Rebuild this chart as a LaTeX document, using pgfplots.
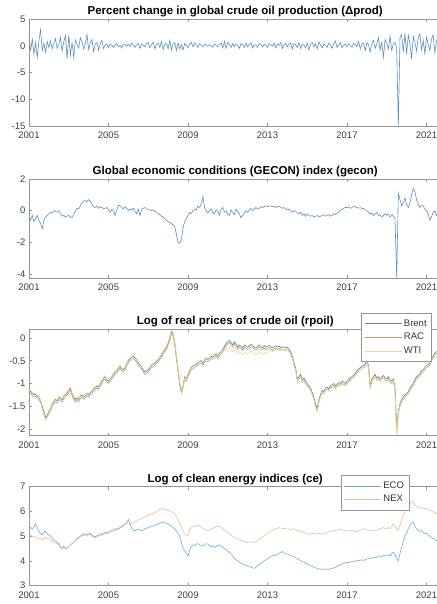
\documentclass[border=0pt]{standalone}
\usepackage{pgfplots}
\pgfplotsset{compat=1.18}
\usepackage{pgfplotstable}
\usepackage{fontspec}
\setmainfont{Liberation Sans}

\definecolor{seriesblue}{RGB}{90,145,192}
\definecolor{brentc}{RGB}{110,120,134}
\definecolor{racc}{RGB}{182,158,124}
\definecolor{wtic}{RGB}{234,214,140}
\definecolor{ecoc}{RGB}{112,172,210}
\definecolor{nexc}{RGB}{236,186,150}
\definecolor{framec}{RGB}{150,150,150}

% monthly observations: m = month index (0 = first month of 2001)
\pgfplotstableread{
m prod gecon brent rac wti eco nex
0 0.3 -0.4 -1.20 -1.25 -1.18 5.30 5.00
1 -0.8 -0.6 -1.17 -1.22 -1.15 5.35 5.05
2 1.2 -0.3 -1.22 -1.27 -1.20 5.28 4.98
3 -1.5 -0.7 -1.25 -1.30 -1.23 5.40 5.02
4 0.6 -0.5 -1.23 -1.28 -1.21 5.50 4.95
5 -2.2 -0.3 -1.28 -1.33 -1.26 5.35 4.90
6 1.0 -0.6 -1.30 -1.35 -1.28 5.20 4.88
7 3.0 -0.8 -1.38 -1.43 -1.36 5.10 4.90
8 -0.9 -1.15 -1.50 -1.55 -1.56 5.05 4.85
9 0.5 -0.6 -1.62 -1.67 -1.68 5.15 4.92
10 -1.2 -0.4 -1.74 -1.79 -1.80 5.20 4.95
11 0.8 -0.3 -1.70 -1.75 -1.76 5.10 4.88
12 -0.3 -0.2 -1.62 -1.67 -1.68 5.05 4.90
13 0.9 -0.1 -1.55 -1.60 -1.53 5.00 4.85
14 -0.6 -0.15 -1.45 -1.50 -1.43 4.95 4.80
15 0.4 0.0 -1.40 -1.45 -1.38 4.85 4.75
16 1.3 -0.05 -1.35 -1.40 -1.33 4.80 4.72
17 -0.5 -0.1 -1.38 -1.43 -1.36 4.75 4.70
18 0.2 0.0 -1.30 -1.35 -1.28 4.70 4.65
19 1.6 -0.2 -1.33 -1.38 -1.31 4.55 4.58
20 -1.0 -0.35 -1.36 -1.41 -1.34 4.50 4.52
21 0.7 -0.3 -1.28 -1.33 -1.26 4.60 4.55
22 1.9 -0.4 -1.25 -1.30 -1.23 4.48 4.50
23 -2.4 -0.35 -1.20 -1.25 -1.18 4.52 4.55
24 2.0 -0.3 -1.15 -1.20 -1.13 4.60 4.60
25 -1.8 -0.4 -1.10 -1.15 -1.08 4.65 4.65
26 0.6 -0.45 -1.22 -1.27 -1.20 4.70 4.70
27 -2.2 -0.25 -1.30 -1.35 -1.28 4.75 4.75
28 1.1 0.0 -1.36 -1.41 -1.34 4.85 4.82
29 0.3 0.15 -1.32 -1.37 -1.30 4.90 4.88
30 -0.4 0.1 -1.35 -1.40 -1.33 4.95 4.92
31 1.5 0.3 -1.28 -1.33 -1.26 5.00 4.98
32 0.8 0.5 -1.25 -1.30 -1.23 5.05 5.00
33 -0.6 0.6 -1.30 -1.35 -1.28 5.10 5.05
34 0.4 0.65 -1.27 -1.32 -1.25 5.08 5.02
35 2.1 0.55 -1.22 -1.27 -1.20 5.05 5.00
36 -0.7 0.7 -1.25 -1.30 -1.23 5.10 5.05
37 0.5 0.6 -1.20 -1.25 -1.18 5.12 5.08
38 1.2 0.4 -1.18 -1.23 -1.16 5.05 5.00
39 -1.1 0.25 -1.12 -1.17 -1.10 5.00 4.95
40 0.3 0.2 -1.10 -1.15 -1.08 4.98 4.92
41 0.6 0.3 -1.05 -1.10 -1.03 5.02 4.98
42 -0.8 0.15 -1.08 -1.13 -1.06 5.05 5.00
43 0.4 0.25 -1.00 -1.05 -0.98 5.10 5.05
44 1.0 0.2 -0.95 -1.00 -0.93 5.08 5.02
45 -0.5 0.1 -0.88 -0.93 -0.86 5.12 5.08
46 0.2 0.15 -0.85 -0.90 -0.83 5.15 5.12
47 0.3 0.2 -0.92 -0.97 -0.90 5.10 5.15
48 -0.4 0.05 -0.95 -1.00 -0.93 5.15 5.18
49 0.3 -0.1 -0.90 -0.95 -0.88 5.18 5.22
50 0.1 0.1 -0.85 -0.90 -0.83 5.22 5.25
51 -0.3 0.0 -0.80 -0.85 -0.78 5.20 5.28
52 0.2 -0.3 -0.75 -0.80 -0.73 5.26 5.32
53 0.4 0.05 -0.72 -0.77 -0.70 5.25 5.30
54 -0.2 0.35 -0.66 -0.71 -0.64 5.30 5.35
55 0.1 0.3 -0.62 -0.67 -0.60 5.33 5.40
56 -0.4 0.2 -0.68 -0.73 -0.66 5.38 5.42
57 0.3 0.1 -0.70 -0.75 -0.68 5.42 5.45
58 0.2 0.25 -0.66 -0.71 -0.64 5.48 5.50
59 -0.1 0.15 -0.55 -0.60 -0.53 5.55 5.52
60 0.3 0.0 -0.50 -0.55 -0.48 5.68 5.50
61 -0.2 0.1 -0.45 -0.50 -0.43 5.50 5.48
62 0.5 0.05 -0.42 -0.47 -0.40 5.32 5.52
63 0.1 0.15 -0.40 -0.45 -0.38 5.25 5.55
64 -0.3 -0.05 -0.44 -0.49 -0.42 5.22 5.58
65 0.2 -0.2 -0.48 -0.53 -0.46 5.25 5.60
66 0.4 0.1 -0.55 -0.60 -0.53 5.28 5.65
67 -0.5 -0.3 -0.60 -0.65 -0.58 5.25 5.68
68 0.3 0.05 -0.62 -0.67 -0.60 5.22 5.70
69 0.1 0.15 -0.70 -0.75 -0.68 5.25 5.75
70 -0.2 0.2 -0.75 -0.80 -0.73 5.30 5.78
71 0.4 0.1 -0.72 -0.77 -0.70 5.32 5.80
72 0.6 0.1 -0.70 -0.75 -0.68 5.35 5.85
73 -0.4 0.05 -0.65 -0.70 -0.63 5.38 5.88
74 0.2 0.0 -0.60 -0.65 -0.58 5.42 5.90
75 0.7 0.05 -0.58 -0.63 -0.56 5.40 5.92
76 -0.6 -0.05 -0.55 -0.60 -0.53 5.45 5.95
77 0.3 -0.1 -0.50 -0.55 -0.48 5.48 6.00
78 0.5 -0.2 -0.48 -0.53 -0.46 5.50 6.05
79 -0.3 -0.25 -0.42 -0.47 -0.40 5.52 6.08
80 0.8 -0.35 -0.38 -0.43 -0.36 5.55 6.10
81 -0.7 -0.4 -0.30 -0.35 -0.28 5.58 6.12
82 0.2 -0.5 -0.25 -0.30 -0.23 5.55 6.10
83 0.4 -0.6 -0.20 -0.25 -0.18 5.50 6.05
84 -0.5 -0.7 -0.10 -0.15 -0.08 5.50 6.05
85 1.0 -0.75 0.00 -0.05 0.02 5.45 6.02
86 -0.8 -0.8 0.15 0.10 0.18 5.40 6.00
87 0.3 -0.9 0.10 0.05 0.12 5.35 5.95
88 0.6 -1.0 -0.10 -0.15 -0.08 5.30 5.90
89 -0.9 -1.5 -0.40 -0.45 -0.38 5.20 5.78
90 0.5 -2.0 -0.70 -0.75 -0.68 5.10 5.65
91 -0.6 -2.05 -1.00 -1.05 -0.98 5.00 5.50
92 0.2 -1.8 -1.15 -1.20 -1.15 4.75 5.35
93 -0.8 -1.1 -1.05 -1.10 -1.08 4.50 5.20
94 0.4 -0.7 -0.85 -0.90 -0.88 4.40 5.10
95 0.1 -0.5 -0.90 -0.95 -0.92 4.30 5.05
96 -0.4 -0.3 -0.80 -0.85 -0.78 4.20 5.00
97 0.3 -0.1 -0.72 -0.77 -0.70 4.45 5.25
98 0.6 -0.2 -0.65 -0.70 -0.63 4.60 5.38
99 -0.2 0.0 -0.62 -0.67 -0.60 4.65 5.40
100 0.5 0.1 -0.60 -0.65 -0.58 4.62 5.38
101 0.2 0.05 -0.58 -0.63 -0.56 4.68 5.42
102 -0.3 0.3 -0.55 -0.60 -0.53 4.70 5.45
103 0.4 0.2 -0.52 -0.57 -0.50 4.65 5.40
104 0.1 0.4 -0.50 -0.55 -0.48 4.62 5.35
105 -0.2 0.9 -0.55 -0.60 -0.53 4.60 5.30
106 0.3 0.2 -0.48 -0.53 -0.46 4.65 5.28
107 0.2 0.0 -0.45 -0.50 -0.43 4.70 5.25
108 -0.1 -0.15 -0.47 -0.52 -0.45 4.68 5.22
109 0.2 0.0 -0.44 -0.49 -0.42 4.62 5.25
110 0.0 0.1 -0.40 -0.45 -0.38 4.58 5.30
111 -0.3 -0.1 -0.42 -0.47 -0.40 4.60 5.32
112 0.3 -0.2 -0.38 -0.43 -0.36 4.55 5.35
113 0.1 0.05 -0.35 -0.40 -0.33 4.58 5.38
114 -0.2 0.0 -0.40 -0.45 -0.38 4.62 5.40
115 0.2 -0.3 -0.33 -0.38 -0.31 4.65 5.38
116 0.5 0.1 -0.30 -0.35 -0.30 4.60 5.35
117 -0.4 0.2 -0.25 -0.30 -0.30 4.55 5.30
118 0.8 -0.1 -0.18 -0.23 -0.28 4.50 5.25
119 -0.5 0.0 -0.12 -0.17 -0.25 4.45 5.20
120 0.6 -0.2 -0.08 -0.13 -0.23 4.40 5.15
121 0.2 -0.3 -0.05 -0.10 -0.20 4.35 5.10
122 -0.3 0.05 -0.10 -0.15 -0.25 4.28 5.05
123 0.4 -0.1 -0.15 -0.20 -0.30 4.20 5.00
124 -0.2 -0.25 -0.08 -0.13 -0.23 4.12 4.95
125 0.3 0.1 -0.12 -0.17 -0.27 4.05 4.90
126 0.1 -0.05 -0.20 -0.25 -0.35 4.00 4.88
127 -0.5 -0.2 -0.15 -0.20 -0.30 3.95 4.85
128 0.4 -0.45 -0.18 -0.23 -0.33 3.90 4.82
129 0.2 -0.3 -0.22 -0.27 -0.37 3.88 4.80
130 -0.3 -0.15 -0.15 -0.20 -0.30 3.85 4.78
131 0.5 0.0 -0.17 -0.22 -0.32 3.82 4.76
132 -0.2 -0.1 -0.20 -0.25 -0.35 3.80 4.75
133 0.3 0.05 -0.18 -0.23 -0.33 3.78 4.78
134 0.6 0.15 -0.14 -0.19 -0.29 3.75 4.76
135 -0.4 0.0 -0.16 -0.21 -0.31 3.72 4.75
136 0.2 0.1 -0.20 -0.25 -0.35 3.70 4.74
137 0.1 0.2 -0.22 -0.27 -0.37 3.74 4.78
138 -0.3 0.1 -0.18 -0.23 -0.33 3.80 4.82
139 0.4 0.15 -0.15 -0.20 -0.30 3.85 4.88
140 0.2 0.25 -0.19 -0.24 -0.34 3.90 4.92
141 -0.2 0.2 -0.21 -0.26 -0.36 3.95 4.98
142 0.3 0.25 -0.17 -0.22 -0.32 4.00 5.02
143 0.1 0.3 -0.20 -0.25 -0.35 4.05 5.08
144 -0.3 0.25 -0.18 -0.23 -0.28 4.10 5.12
145 0.4 0.3 -0.16 -0.21 -0.26 4.12 5.15
146 0.2 0.3 -0.20 -0.25 -0.28 4.18 5.20
147 -0.1 0.25 -0.22 -0.27 -0.30 4.20 5.25
148 0.5 0.3 -0.19 -0.24 -0.27 4.25 5.30
149 -0.4 0.2 -0.17 -0.22 -0.25 4.22 5.28
150 0.3 0.25 -0.20 -0.25 -0.27 4.28 5.32
151 0.1 0.3 -0.18 -0.23 -0.25 4.30 5.35
152 0.6 0.2 -0.21 -0.26 -0.27 4.35 5.33
153 -0.5 0.15 -0.19 -0.24 -0.25 4.38 5.30
154 0.2 0.2 -0.20 -0.25 -0.26 4.32 5.32
155 0.4 0.1 -0.22 -0.27 -0.27 4.30 5.30
156 -0.2 0.05 -0.20 -0.25 -0.24 4.28 5.28
157 0.3 0.1 -0.25 -0.30 -0.29 4.25 5.30
158 0.5 0.0 -0.30 -0.35 -0.34 4.22 5.25
159 -0.6 -0.1 -0.40 -0.45 -0.44 4.20 5.28
160 0.4 0.0 -0.55 -0.60 -0.59 4.18 5.30
161 0.2 -0.05 -0.65 -0.70 -0.69 4.12 5.25
162 -0.3 -0.15 -0.90 -0.95 -0.94 4.10 5.22
163 0.6 -0.2 -0.85 -0.90 -0.89 4.05 5.20
164 -0.5 -0.1 -0.80 -0.85 -0.84 4.00 5.22
165 0.3 -0.3 -0.92 -0.97 -0.96 3.98 5.18
166 0.1 -0.2 -0.88 -0.93 -0.92 3.95 5.15
167 -0.4 -0.35 -0.95 -1.00 -0.99 3.90 5.12
168 0.5 -0.2 -1.00 -1.05 -1.04 3.88 5.10
169 -0.8 -0.3 -1.05 -1.10 -1.09 3.85 5.08
170 0.3 -0.35 -1.10 -1.15 -1.14 3.80 5.10
171 0.6 -0.3 -1.20 -1.25 -1.24 3.78 5.12
172 -0.2 -0.4 -1.30 -1.35 -1.34 3.75 5.10
173 0.4 -0.35 -1.45 -1.50 -1.52 3.72 5.08
174 -0.6 -0.3 -1.55 -1.60 -1.62 3.70 5.10
175 0.7 -0.4 -1.35 -1.40 -1.39 3.68 5.12
176 0.2 -0.35 -1.25 -1.30 -1.29 3.67 5.10
177 -0.4 -0.3 -1.15 -1.20 -1.19 3.66 5.08
178 0.3 -0.25 -1.18 -1.23 -1.22 3.66 5.10
179 0.1 -0.35 -1.10 -1.15 -1.14 3.67 5.12
180 -0.3 -0.3 -1.08 -1.13 -1.12 3.68 5.15
181 0.5 -0.25 -1.12 -1.17 -1.16 3.66 5.18
182 0.2 -0.35 -1.05 -1.10 -1.09 3.68 5.20
183 -0.5 -0.3 -1.03 -1.08 -1.07 3.70 5.22
184 0.4 -0.2 -1.00 -1.05 -1.04 3.72 5.25
185 0.9 -0.25 -1.06 -1.11 -1.10 3.75 5.23
186 -0.3 -0.15 -1.02 -1.07 -1.06 3.78 5.25
187 0.2 -0.1 -0.98 -1.03 -1.02 3.82 5.28
188 0.6 0.0 -1.00 -1.05 -1.04 3.85 5.26
189 -0.4 0.1 -0.95 -1.00 -0.99 3.88 5.24
190 0.1 0.15 -0.97 -1.02 -1.01 3.90 5.25
191 0.3 0.2 -1.00 -1.05 -1.04 3.92 5.22
192 -0.2 0.2 -0.95 -1.00 -0.99 3.95 5.20
193 0.4 0.25 -0.92 -0.97 -0.96 3.93 5.22
194 0.1 0.15 -0.88 -0.93 -0.92 3.96 5.25
195 -0.3 0.2 -0.85 -0.90 -0.89 3.98 5.22
196 0.5 0.3 -0.82 -0.87 -0.86 4.00 5.20
197 0.2 0.25 -0.78 -0.83 -0.82 3.98 5.18
198 -0.1 0.2 -0.72 -0.77 -0.76 4.02 5.20
199 0.8 0.15 -0.68 -0.73 -0.72 4.00 5.22
200 -0.6 0.2 -0.65 -0.70 -0.69 4.03 5.25
201 0.3 0.1 -0.62 -0.67 -0.66 4.05 5.28
202 0.5 0.15 -0.60 -0.65 -0.64 4.02 5.30
203 -0.9 0.05 -0.58 -0.63 -0.62 4.05 5.28
204 0.6 0.0 -0.48 -0.53 -0.52 4.08 5.25
205 0.2 -0.1 -0.60 -0.65 -0.64 4.10 5.22
206 -1.2 -0.2 -1.05 -1.10 -1.09 4.08 5.20
207 0.4 -0.15 -0.90 -0.95 -0.94 4.12 5.22
208 1.0 -0.3 -0.85 -0.90 -0.89 4.15 5.25
209 -0.5 -0.2 -0.80 -0.85 -0.84 4.13 5.23
210 0.3 -0.1 -0.88 -0.93 -0.92 4.15 5.25
211 1.5 -0.3 -0.85 -0.90 -0.89 4.18 5.28
212 -0.8 -0.25 -0.90 -0.95 -0.94 4.20 5.30
213 0.7 -0.4 -0.86 -0.91 -0.90 4.18 5.32
214 -2.1 -0.3 -0.82 -0.87 -0.86 4.22 5.35
215 1.2 -0.2 -0.88 -0.93 -0.92 4.20 5.30
216 0.5 -0.3 -0.90 -0.95 -0.94 4.22 5.32
217 -0.6 -0.2 -0.85 -0.90 -0.89 4.25 5.35
218 1.8 -0.4 -0.92 -0.97 -0.96 4.20 5.30
219 -0.9 -0.25 -0.95 -1.00 -0.99 4.30 5.40
220 0.4 -0.35 -0.90 -0.95 -0.94 4.35 5.50
221 0.6 -0.5 -1.10 -1.15 -1.14 4.25 5.40
222 -0.4 -4.25 -2.05 -2.10 -2.15 4.10 5.30
223 -15.0 1.1 -1.60 -1.65 -1.64 4.00 5.25
224 1.6 0.7 -1.45 -1.50 -1.49 4.30 5.45
225 2.1 0.3 -1.35 -1.40 -1.39 4.55 5.65
226 -1.2 0.5 -1.30 -1.35 -1.34 4.80 5.85
227 2.3 0.8 -1.25 -1.30 -1.29 5.00 6.00
228 -1.5 0.4 -1.22 -1.27 -1.26 5.15 6.10
229 2.0 0.2 -1.18 -1.23 -1.22 5.30 6.20
230 0.4 0.5 -1.10 -1.15 -1.14 5.45 6.30
231 -2.5 1.0 -1.05 -1.10 -1.09 5.50 6.38
232 1.8 1.4 -1.00 -1.05 -1.04 5.58 6.42
233 0.6 1.2 -0.92 -0.97 -0.96 5.40 6.25
234 -1.0 0.7 -0.85 -0.90 -0.89 5.30 6.20
235 1.4 0.4 -0.82 -0.87 -0.86 5.25 6.15
236 2.2 0.2 -0.78 -0.83 -0.82 5.20 6.18
237 -0.8 0.35 -0.72 -0.77 -0.76 5.22 6.12
238 1.0 0.3 -0.70 -0.75 -0.74 5.15 6.15
239 -1.5 0.1 -0.65 -0.70 -0.69 5.10 6.10
240 1.6 0.0 -0.60 -0.65 -0.64 5.12 6.12
241 0.3 -0.2 -0.58 -0.63 -0.62 5.05 6.08
242 -0.9 -0.6 -0.55 -0.60 -0.59 5.00 6.05
243 1.2 -0.4 -0.45 -0.50 -0.49 4.95 6.02
244 2.0 -0.1 -0.40 -0.45 -0.44 4.90 6.00
245 -1.3 0.0 -0.33 -0.38 -0.37 4.85 5.95
246 0.8 -0.3 -0.30 -0.35 -0.34 4.82 5.92
247 1.5 -0.2 -0.28 -0.33 -0.32 4.80 5.90
248 -0.6 0.1 -0.25 -0.30 -0.29 4.78 5.88
249 0.9 0.0 -0.22 -0.27 -0.26 4.75 5.85
}\series

\pgfplotsset{
  panel/.style={
    scale only axis,
    width=412.4pt,
    anchor=north west,
    xmin=0, xmax=249,
    xtick={0,48,96,144,192,240},
    xticklabels={2001,2005,2009,2013,2017,2021},
    tick align=inside,
    major tick length=3pt,
    axis line style={framec, line width=0.6pt},
    every tick/.style={framec, line width=0.6pt},
    tick label style={font=\fontsize{9.5}{10}\selectfont, text=black!75},
    xticklabel style={yshift=-2.5pt},
    /pgf/number format/assume math mode=true,
    title style={font=\bfseries\fontsize{11.5}{13}\selectfont, anchor=base, at={(0.5,1)}, yshift=-1.5pt},
    legend image code/.code={\draw[##1] (0pt,0pt) -- (37pt,0pt);},
    legend cell align=left,
  },
  legend box/.style={
    draw=framec, fill=white, line width=0.5pt,
    font=\fontsize{9.5}{10.5}\selectfont, text=black!80,
    inner xsep=3pt, inner ysep=4.5pt, row sep=1.5pt,
  },
}

\begin{document}
\begin{tikzpicture}
\path[use as bounding box] (0pt,0pt) rectangle (436pt,-604pt);

% oil production growth
\begin{axis}[panel, at={(29pt,-19pt)}, height=107pt,
  ymin=-15, ymax=5, ytick={-15,-10,-5,0,5},
  title={Percent change in global crude oil production (Δprod)}]
\addplot[seriesblue, line width=0.6pt] table[x=m, y=prod] {\series};
\end{axis}

% economic conditions index
\begin{axis}[panel, at={(29pt,-179pt)}, height=99pt,
  ymin=-4.25, ymax=2, ytick={-4,-2,0,2},
  title={Global economic conditions (GECON) index (gecon)}]
\addplot[seriesblue, line width=0.6pt] table[x=m, y=gecon] {\series};
\end{axis}

% real oil prices
\begin{axis}[panel, at={(29pt,-329pt)}, height=106.7pt,
  ymin=-2.15, ymax=0.2, ytick={-2,-1.5,-1,-0.5,0},
  title={Log of real prices of crude oil (rpoil)},
  legend style={legend box, at={(0.977,1.150)}, anchor=north east}]
\addplot[brentc, line width=0.6pt] table[x=m, y=brent] {\series};
\addplot[racc, line width=0.6pt] table[x=m, y=rac] {\series};
\addplot[wtic, line width=0.6pt] table[x=m, y=wti] {\series};
\legend{Brent, RAC, WTI}
\end{axis}

% clean energy indices
\begin{axis}[panel, at={(29pt,-486.7pt)}, height=99pt,
  ymin=3, ymax=7, ytick={3,4,5,6,7},
  title={Log of clean energy indices (ce)},
  legend style={legend box, at={(0.922,1.118)}, anchor=north east}]
\addplot[ecoc, line width=0.6pt] table[x=m, y=eco] {\series};
\addplot[nexc, line width=0.6pt] table[x=m, y=nex] {\series};
\legend{ECO, NEX}
\end{axis}
\end{tikzpicture}
\end{document}
